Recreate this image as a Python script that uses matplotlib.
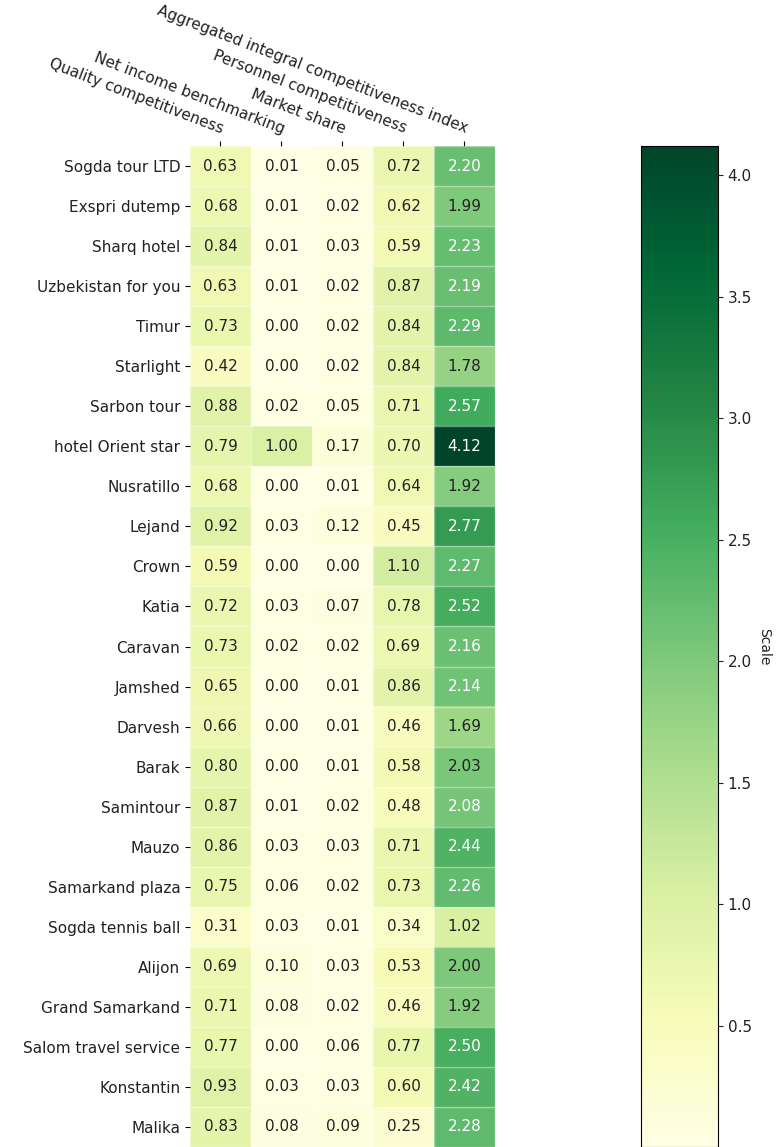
import numpy as np
import matplotlib.pyplot as plt

companies = ['Sogda tour LTD', 'Exspri dutemp', 'Sharq hotel', 'Uzbekistan for you', 'Timur',
             'Starlight', 'Sarbon tour', 'hotel Orient star', 'Nusratillo', 'Lejand', 'Crown',
             'Katia', 'Caravan', 'Jamshed', 'Darvesh', 'Barak', 'Samintour', 'Mauzo',
             'Samarkand plaza', 'Sogda tennis ball', 'Alijon', 'Grand Samarkand',
             'Salom travel service', 'Konstantin', 'Malika']
indicators = ['Quality competitiveness', 'Net income benchmarking', 'Market share',
              'Personnel competitiveness', 'Aggregated integral competitiveness index']

quality = [0.63, 0.68, 0.84, 0.63, 0.73, 0.42, 0.88, 0.79, 0.68, 0.92, 0.59, 0.72, 0.73,
           0.65, 0.66, 0.80, 0.87, 0.86, 0.75, 0.31, 0.69, 0.71, 0.77, 0.93, 0.83]
net_income = [0.01, 0.01, 0.01, 0.01, 0.00, 0.00, 0.02, 1.00, 0.00, 0.03, 0.00, 0.03, 0.02,
              0.00, 0.00, 0.00, 0.01, 0.03, 0.06, 0.03, 0.10, 0.08, 0.00, 0.03, 0.08]
market_share = [0.05, 0.02, 0.03, 0.02, 0.02, 0.02, 0.05, 0.17, 0.01, 0.12, 0.00, 0.07, 0.02,
                0.01, 0.01, 0.01, 0.02, 0.03, 0.02, 0.01, 0.03, 0.02, 0.06, 0.03, 0.09]
personnel = [0.72, 0.62, 0.59, 0.87, 0.84, 0.84, 0.71, 0.70, 0.64, 0.45, 1.10, 0.78, 0.69,
             0.86, 0.46, 0.58, 0.48, 0.71, 0.73, 0.34, 0.53, 0.46, 0.77, 0.60, 0.25]
aggregated = [2.20, 1.99, 2.23, 2.19, 2.29, 1.78, 2.57, 4.12, 1.92, 2.77, 2.27, 2.52, 2.16,
              2.14, 1.69, 2.03, 2.08, 2.44, 2.26, 1.02, 2.00, 1.92, 2.50, 2.42, 2.28]

data = np.array([quality, net_income, market_share, personnel, aggregated]).T

fs = 11
fig = plt.figure(figsize=(7.77, 11.47), dpi=100)
ax = fig.add_axes([0.2445, 0.0, 0.3925, 0.8727])
cax = fig.add_axes([0.825, 0.0, 0.099, 0.8727])

im = ax.imshow(data, cmap='YlGn', aspect='auto')
cbar = fig.colorbar(im, cax=cax)
cbar.set_ticks([0.5, 1.0, 1.5, 2.0, 2.5, 3.0, 3.5, 4.0])
cbar.ax.tick_params(labelsize=fs, colors='#222222', labelcolor='#222222')
cbar.ax.set_ylabel('Scale', rotation=-90, va='bottom', fontsize=fs - 1, color='#222222')

ax.set_xticks(np.arange(len(indicators)), labels=indicators, fontsize=fs, color='#222222')
ax.set_yticks(np.arange(len(companies)), labels=companies, fontsize=fs, color='#222222')
ax.tick_params(top=True, bottom=False, labeltop=True, labelbottom=False)
plt.setp(ax.get_xticklabels(), rotation=-21, ha='right', rotation_mode='anchor')

for s in ax.spines.values():
    s.set_visible(False)
ax.set_xticks(np.arange(data.shape[1] + 1) - .5, minor=True)
ax.set_yticks(np.arange(data.shape[0] + 1) - .5, minor=True)
ax.grid(which='minor', color='w', linestyle='-', linewidth=1, alpha=0.4)
ax.tick_params(which='minor', bottom=False, left=False, top=False)

# white text on the dark half of the scale
threshold = im.norm(data.max()) / 2.
for i in range(data.shape[0]):
    for j in range(data.shape[1]):
        col = 'white' if im.norm(data[i, j]) > threshold else '#222222'
        ax.text(j, i, '{:.2f}'.format(data[i, j]), ha='center', va='center',
                color=col, fontsize=fs)

fig.savefig('out.png', dpi=100)
